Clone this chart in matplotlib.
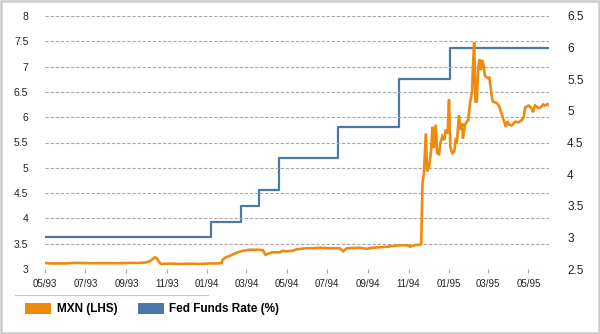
import matplotlib
matplotlib.use("Agg")
import matplotlib.pyplot as plt
import matplotlib.dates as mdates
from matplotlib.patches import Patch, Rectangle
from matplotlib.lines import Line2D
import pandas as pd

# MXN per USD (left axis)
mxn_dates = [
    "1993-05-01", "1993-05-09", "1993-05-24", "1993-06-03", "1993-06-11", "1993-06-23",
    "1993-07-08", "1993-07-23", "1993-08-07", "1993-08-22", "1993-09-06", "1993-09-21",
    "1993-10-01", "1993-10-07", "1993-10-11", "1993-10-14", "1993-10-17", "1993-10-20",
    "1993-10-23", "1993-11-06", "1993-11-21", "1993-12-06", "1993-12-21", "1994-01-05",
    "1994-01-17", "1994-01-23", "1994-01-24", "1994-01-29", "1994-02-04", "1994-02-09",
    "1994-02-16", "1994-02-24", "1994-03-06", "1994-03-21", "1994-03-26", "1994-03-30",
    "1994-04-02", "1994-04-10", "1994-04-21", "1994-04-24", "1994-05-01", "1994-05-10",
    "1994-05-16", "1994-05-31", "1994-06-09", "1994-06-20", "1994-07-05", "1994-07-20",
    "1994-07-25", "1994-07-31", "1994-08-19", "1994-08-30", "1994-09-08", "1994-09-29",
    "1994-10-19", "1994-10-30", "1994-11-03", "1994-11-10", "1994-11-18", "1994-11-20",
    "1994-11-22", "1994-11-24", "1994-11-27", "1994-11-29", "1994-12-02", "1994-12-05",
    "1994-12-07", "1994-12-09", "1994-12-12", "1994-12-14", "1994-12-17", "1994-12-19",
    "1994-12-22", "1994-12-25", "1994-12-27", "1994-12-30", "1995-01-01", "1995-01-03",
    "1995-01-06", "1995-01-09", "1995-01-11", "1995-01-13", "1995-01-16", "1995-01-19",
    "1995-01-21", "1995-01-22", "1995-01-25", "1995-01-28", "1995-01-30", "1995-02-02",
    "1995-02-05", "1995-02-06", "1995-02-08", "1995-02-10", "1995-02-12", "1995-02-14",
    "1995-02-16", "1995-02-18", "1995-02-20", "1995-02-22", "1995-02-24", "1995-02-26",
    "1995-03-01", "1995-03-03", "1995-03-06", "1995-03-08", "1995-03-12", "1995-03-15",
    "1995-03-18", "1995-03-21", "1995-03-23", "1995-03-26", "1995-03-28", "1995-03-30",
    "1995-04-02", "1995-04-06", "1995-04-11", "1995-04-16", "1995-04-21", "1995-04-24",
    "1995-04-26", "1995-05-01", "1995-05-05", "1995-05-08", "1995-05-11", "1995-05-15",
    "1995-05-19", "1995-05-23", "1995-05-26", "1995-05-30", "1995-06-01",
]
mxn_values = [
    3.12, 3.11, 3.11, 3.11, 3.12, 3.12,
    3.115, 3.115, 3.115, 3.115, 3.12, 3.12,
    3.13, 3.16, 3.20, 3.23, 3.21, 3.14,
    3.10, 3.105, 3.10, 3.105, 3.10, 3.11,
    3.11, 3.12, 3.18, 3.23, 3.26, 3.29,
    3.33, 3.36, 3.38, 3.38, 3.37, 3.28,
    3.30, 3.33, 3.33, 3.36, 3.35, 3.36,
    3.39, 3.41, 3.41, 3.42, 3.41, 3.41,
    3.35, 3.41, 3.42, 3.40, 3.42, 3.44,
    3.47, 3.47, 3.44, 3.47, 3.48, 3.49,
    4.70, 4.86, 5.68, 4.93, 5.02, 5.35,
    5.81, 5.39, 5.85, 5.29, 5.27, 5.49,
    5.62, 5.55, 5.75, 5.68, 6.35, 5.42,
    5.29, 5.32, 5.55, 5.52, 6.04, 5.75,
    5.88, 5.58, 5.85, 5.91, 5.94, 6.31,
    6.50, 6.96, 7.48, 6.31, 6.31, 6.96,
    7.15, 6.93, 7.13, 7.03, 6.83, 6.80,
    6.77, 6.78, 6.47, 6.31, 6.29, 6.27,
    6.21, 6.08, 6.01, 5.88, 5.81, 5.92,
    5.85, 5.84, 5.91, 5.90, 5.94, 6.01,
    6.19, 6.23, 6.19, 6.10, 6.23, 6.19,
    6.19, 6.25, 6.23, 6.26, 6.24,
]

# Fed funds target changes (right axis)
fed_dates = ["1993-05-01", "1994-01-06", "1994-02-21", "1994-03-20", "1994-04-19",
             "1994-07-18", "1994-10-17", "1995-01-02", "1995-06-01"]
fed_values = [3.00, 3.25, 3.50, 3.75, 4.25, 4.75, 5.50, 6.00, 6.00]

left_ticks = [3, 3.5, 4, 4.5, 5, 5.5, 6, 6.5, 7, 7.5, 8]
right_ticks = [2.5, 3, 3.5, 4, 4.5, 5, 5.5, 6, 6.5]

ORANGE = "#F08A0C"
BLUE = "#4A78A8"
GRID = "#A8A8A8"
TEXT = "#222222"

plt.rcParams["font.family"] = ["Liberation Sans", "DejaVu Sans"]

mxn = pd.Series(mxn_values, index=pd.to_datetime(mxn_dates))
fed = pd.Series(fed_values, index=pd.to_datetime(fed_dates))

fig = plt.figure(figsize=(6, 3.34), dpi=100)
ax = fig.add_axes([45 / 600, 1 - 269 / 334, 504 / 600, 253 / 334])
ax2 = ax.twinx()

ax2.step(fed.index, fed.values, where="post", color=BLUE, lw=1.6)
ax.plot(mxn.index, mxn.values, color=ORANGE, lw=1.9, solid_joinstyle="miter")

# orange series sits on top of the fed funds line
ax.set_zorder(ax2.get_zorder() + 1)
ax.patch.set_visible(False)

ax.set_xlim(pd.Timestamp("1993-05-01"), pd.Timestamp("1995-06-01"))
ax.set_ylim(3, 8)
ax2.set_ylim(2.5, 6.5)

ax.set_yticks(left_ticks)
ax.set_yticklabels([f"{v:g}" for v in left_ticks])
ax2.set_yticks(right_ticks)
ax2.set_yticklabels([f"{v:g}" for v in right_ticks])

ax.xaxis.set_major_locator(mdates.MonthLocator(bymonth=[1, 3, 5, 7, 9, 11]))
ax.xaxis.set_major_formatter(mdates.DateFormatter("%m/%y"))

ax.yaxis.grid(True, color=GRID, lw=0.8, linestyle=(0, (3, 1.6)))
ax.set_axisbelow(True)

for a in (ax, ax2):
    for s in a.spines.values():
        s.set_visible(False)

ax.tick_params(axis="y", length=0, pad=12, labelsize=7.5, colors=TEXT)
ax2.tick_params(axis="y", length=0, pad=13, labelsize=8.5, colors=TEXT)
ax.tick_params(axis="x", length=3, width=0.8, color=GRID, pad=4.5, labelsize=7, labelcolor=TEXT)

handles = [Patch(facecolor=ORANGE, edgecolor="none"), Patch(facecolor=BLUE, edgecolor="none")]
fig.legend(handles, ["MXN (LHS)", "Fed Funds Rate (%)"], loc="center left",
           bbox_to_anchor=(25 / 600, 1 - 309 / 334), ncol=2, frameon=False,
           prop={"weight": "bold", "size": 8.5}, handlelength=2.2, handleheight=1.05,
           handletextpad=0.5, columnspacing=1.7, borderpad=0, borderaxespad=0)

# separator above the legend and light frame round the figure
fig.add_artist(Line2D([15 / 600, 208 / 600], [1 - 294.5 / 334] * 2,
                      transform=fig.transFigure, color="#C8C8C8", lw=0.8))
fig.add_artist(Rectangle((0.001, 0.002), 0.997, 0.995, transform=fig.transFigure,
                         fill=False, edgecolor="#CCCCCC", lw=1.8))

fig.savefig("out.png", dpi=100, facecolor="white")
